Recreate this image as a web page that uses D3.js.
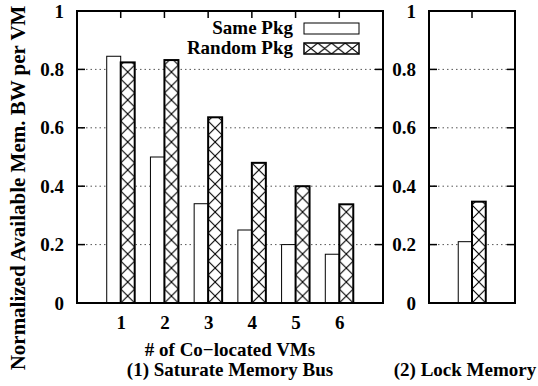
<!DOCTYPE html>
<html>
<head>
<meta charset="utf-8">
<script src="https://cdn.jsdelivr.net/npm/d3@7"></script>
<style>
  body { margin: 0; background: #fff; }
  svg text { font-family: "Liberation Serif", "Times New Roman", serif; font-weight: bold; }
</style>
</head>
<body>
<svg id="chart" width="538" height="386"></svg>
<script>
// data
var vms = [1, 2, 3, 4, 5, 6];
var samePkg = [0.845, 0.50, 0.34, 0.25, 0.20, 0.167];
var randomPkg = [0.824, 0.832, 0.636, 0.48, 0.40, 0.338];
var lockSame = [0.21];
var lockRandom = [0.347];
var yTicks = [0, 0.2, 0.4, 0.6, 0.8, 1];
var seriesNames = ["Same Pkg", "Random Pkg"];

var svg = d3.select("#chart");
var yTop = 11, yBot = 303;
var barW = 0.32;
var fs = 19;
var patCount = 0;

var y = d3.scaleLinear().domain([0, 1]).range([yBot, yTop]);
var defs = svg.append("defs");

// crosshatch pattern lined up with a given box
function hatch(px, py, w, h) {
  var id = "xh" + (patCount++);
  var p = defs.append("pattern").attr("id", id)
    .attr("patternUnits", "userSpaceOnUse")
    .attr("x", px).attr("y", py).attr("width", w).attr("height", h);
  p.append("rect").attr("width", w).attr("height", h).attr("fill", "#fff");
  p.append("path").attr("d", "M0,0L" + w + "," + h + "M" + w + ",0L0," + h)
    .attr("stroke", "#000").attr("stroke-width", 1.1);
  return "url(#" + id + ")";
}

function panel(x0, x1, xmax, cats, same, rand, showCatLabels) {
  var x = d3.scaleLinear().domain([0, xmax]).range([x0, x1]);
  var bw = x(barW) - x(0);
  var g = svg.append("g");

  // grid
  g.selectAll(".grid").data(yTicks.filter(function(d){ return d > 0 && d < 1; }))
    .enter().append("line")
    .attr("x1", x0).attr("x2", x1)
    .attr("y1", function(d){ return y(d); }).attr("y2", function(d){ return y(d); })
    .attr("stroke", "#555").attr("stroke-width", 1).attr("stroke-dasharray", "1.5,3");

  // left/right ticks
  yTicks.forEach(function(t){
    g.append("line").attr("x1", x0).attr("x2", x0 + 8).attr("y1", y(t)).attr("y2", y(t))
      .attr("stroke", "#000").attr("stroke-width", 1.5);
    g.append("line").attr("x1", x1 - 8).attr("x2", x1).attr("y1", y(t)).attr("y2", y(t))
      .attr("stroke", "#000").attr("stroke-width", 1.5);
  });

  // top ticks at categories
  cats.forEach(function(c){
    g.append("line").attr("x1", x(c)).attr("x2", x(c)).attr("y1", yTop).attr("y2", yTop + 7)
      .attr("stroke", "#000").attr("stroke-width", 1.5);
  });

  // y tick labels
  var yAxis = d3.axisLeft(y).tickValues(yTicks).tickSize(0).tickPadding(0)
    .tickFormat(function(d){ return d === 0 || d === 1 ? String(d) : d3.format(".1f")(d); });
  var ya = g.append("g").attr("transform", "translate(" + (x0 - 13) + ",0)").call(yAxis);
  ya.select(".domain").remove();
  ya.selectAll("text").attr("font-size", fs).attr("fill", "#000")
    .attr("font-family", "Liberation Serif").attr("font-weight", "bold");

  // bars
  g.selectAll(".same").data(same).enter().append("rect")
    .attr("x", function(d, i){ return x(cats[i] - barW); })
    .attr("width", bw)
    .attr("y", function(d){ return y(d); })
    .attr("height", function(d){ return yBot - y(d); })
    .attr("fill", "#fff").attr("stroke", "#000").attr("stroke-width", 1);

  g.selectAll(".rand").data(rand).enter().append("rect")
    .attr("x", function(d, i){ return x(cats[i]); })
    .attr("width", bw)
    .attr("y", function(d){ return y(d); })
    .attr("height", function(d){ return yBot - y(d); })
    .attr("fill", function(d, i){ return hatch(x(cats[i]), yBot, bw, 14); })
    .attr("stroke", "#000").attr("stroke-width", 2);

  // frame
  g.append("rect").attr("x", x0).attr("y", yTop).attr("width", x1 - x0).attr("height", yBot - yTop)
    .attr("fill", "none").attr("stroke", "#000").attr("stroke-width", 2);

  if (showCatLabels) {
    var xAxis = d3.axisBottom(x).tickValues(cats).tickSize(0).tickPadding(0).tickFormat(d3.format("d"));
    var xa = g.append("g").attr("transform", "translate(0," + (yBot + 12) + ")").call(xAxis);
    xa.select(".domain").remove();
    xa.selectAll("text").attr("font-size", fs).attr("fill", "#000")
      .attr("font-family", "Liberation Serif").attr("font-weight", "bold");
  }
  return x;
}

panel(77, 383, 7, vms, samePkg, randomPkg, true);
panel(429, 515, 2, [1], lockSame, lockRandom, false);

// legend
var legY = [23, 43];
var legFill = ["#fff", hatch(304, 43, 55 / 4, 11)];
seriesNames.forEach(function(n, i){
  svg.append("text").attr("x", 293).attr("y", legY[i] + 11).attr("text-anchor", "end")
    .attr("font-size", fs).text(n);
  svg.append("rect").attr("x", 304).attr("y", legY[i]).attr("width", 55).attr("height", 11)
    .attr("fill", legFill[i]).attr("stroke", "#000").attr("stroke-width", i ? 1.5 : 1);
});

// axis titles
svg.append("text").attr("x", 230).attr("y", 356).attr("text-anchor", "middle")
  .attr("font-size", fs).text("# of Co\u2212located VMs");
svg.append("text").attr("x", 230).attr("y", 376).attr("text-anchor", "middle")
  .attr("font-size", fs).text("(1) Saturate Memory Bus");
svg.append("text").attr("x", 465).attr("y", 376).attr("text-anchor", "middle")
  .attr("font-size", fs).text("(2) Lock Memory");
svg.append("text").attr("transform", "translate(25,188) rotate(-90)").attr("text-anchor", "middle")
  .attr("font-size", 21).text("Normalized Available Mem. BW per VM");
</script>
</body>
</html>
